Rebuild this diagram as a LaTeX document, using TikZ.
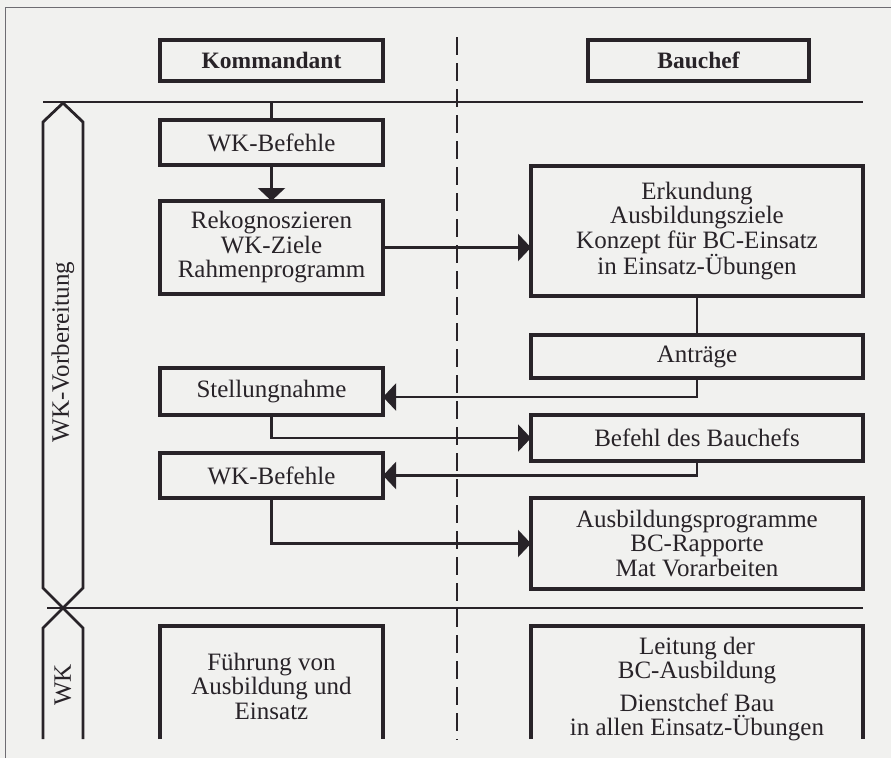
\documentclass[tikz,border=0pt]{standalone}
\usepackage{fontspec}
\setmainfont{Liberation Serif}
\usetikzlibrary{arrows.meta}
\definecolor{ink}{RGB}{40,35,40}
\definecolor{paper}{RGB}{241,241,239}
\definecolor{rule}{RGB}{110,108,114}
\begin{document}
\begin{tikzpicture}[x=1pt, y=-1pt]
\tikzset{ >={Triangle[length=13pt,width=27pt]}, inner sep=0pt, outer sep=0pt,
  box/.style={draw=ink, line width=3.2pt, align=center, text=ink,
    font=\fontsize{25pt}{24.5pt}\selectfont},
  lbox/.style={box, minimum width=223pt},
  rbox/.style={box, minimum width=332pt},
  head/.style={box, minimum height=41pt,
    font=\fontsize{23.5pt}{24pt}\selectfont\bfseries},
  txt/.style={align=center, text=ink, font=\fontsize{25pt}{24.5pt}\selectfont},
  link/.style={ink, line width=2.4pt},
  bar/.style={ink, line width=2.8pt, line join=miter},
}

\fill [paper] (0,0) rectangle (891,758);
\useasboundingbox (0,0) rectangle (891,758);
\draw [rule, line width=1pt] (5,758) -- (5,7) -- (891,7);

\node [head, minimum width=223pt] (kom) at (271.5,60.5) {Kommandant};
\node [head, minimum width=221pt] (bau) at (698.5,60.5) {Bauchef};

\coordinate (topL) at (43,102);
\coordinate (topR) at (863,102);
\coordinate (botL) at (47,608);
\coordinate (botR) at (863,608);
\draw [link] (topL) -- (topR);
\draw [link] (botL) -- (botR);

\draw [ink, line width=2pt, dash pattern=on 18pt off 8pt] (457,37) -- (457,740);

\node [lbox, minimum height=45pt] (wkb1) at (271.5,142.5) {WK-Befehle};
\node [lbox, minimum height=93pt] (rek)  at (271.5,247.5) {Rekognoszieren\\WK-Ziele\\Rahmenprogramm};
\node [lbox, minimum height=47pt] (stn)  at (271.5,391.5) {Stellungnahme};
\node [lbox, minimum height=45pt] (wkb2) at (271.5,475.5) {WK-Befehle};

\node [rbox, minimum height=130pt] (erk) at (697,231) {Erkundung\\Ausbildungsziele\\Konzept für BC-Einsatz\\in Einsatz-Übungen};
\node [rbox, minimum height=43pt]  (ant) at (697,356.5) {Anträge};
\node [rbox, minimum height=46pt]  (bef) at (697,438) {Befehl des Bauchefs};
\node [rbox, minimum height=91pt]  (aus) at (697,543.5) {Ausbildungsprogramme\\BC-Rapporte\\Mat Vorarbeiten};

\draw [link]     (wkb1.north |- topL) -- (wkb1.north);
\draw [link, ->] (wkb1.south) -- (rek.north);
\draw [link, ->] (rek.east) -- (rek.east -| erk.west);
\draw [link]     (erk.south) -- (ant.north);
\draw [link, ->] (ant.south) |- ([yshift=-5.5pt]stn.east);
\draw [link, ->] (stn.south) |- (bef.west);
\draw [link, ->] (bef.south) |- (wkb2.east);
\draw [link, ->] (wkb2.south) |- (aus.west);

\node [txt] (fue) at (271.5,686) {Führung von\\Ausbildung und\\Einsatz};
\node [txt] (lei) at (697,689) {Leitung der\\BC-Ausbildung\\[8pt]Dienstchef Bau\\in allen Einsatz-Übungen};
\draw [box] (160,739) -- (160,626) -- (383,626) -- (383,739);
\draw [box] (531,739) -- (531,626) -- (863,626) -- (863,739);

\draw [bar] (63,103) -- (43,122) -- (43,588) -- (63,608) -- (83,588) -- (83,122) -- cycle;
\draw [bar] (43,739) -- (43,628) -- (63,608) -- (83,628) -- (83,739);

\node [txt, rotate=90] (vor) at (63,352) {WK-Vorbereitung};
\node [txt, rotate=90] (wk)  at (63,685) {WK};

\end{tikzpicture}
\end{document}
